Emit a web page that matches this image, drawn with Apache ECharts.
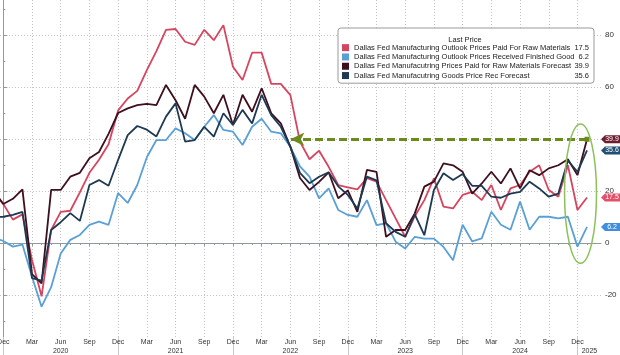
<!DOCTYPE html>
<html><head><meta charset="utf-8">
<script src="https://cdn.jsdelivr.net/npm/echarts@6/dist/echarts.min.js"></script>
<style>html,body{margin:0;padding:0;background:#fff}#c{width:620px;height:355px}</style>
</head><body><div id="c"></div>
<script>
// ---------- data ----------
const months = [
 '2019-11','2019-12',
 '2020-01','2020-02','2020-03','2020-04','2020-05','2020-06','2020-07','2020-08','2020-09','2020-10','2020-11','2020-12',
 '2021-01','2021-02','2021-03','2021-04','2021-05','2021-06','2021-07','2021-08','2021-09','2021-10','2021-11','2021-12',
 '2022-01','2022-02','2022-03','2022-04','2022-05','2022-06','2022-07','2022-08','2022-09','2022-10','2022-11','2022-12',
 '2023-01','2023-02','2023-03','2023-04','2023-05','2023-06','2023-07','2023-08','2023-09','2023-10','2023-11','2023-12',
 '2024-01','2024-02','2024-03','2024-04','2024-05','2024-06','2024-07','2024-08','2024-09','2024-10','2024-11','2024-12',
 '2025-01'
];
const seriesNames = [
 'Dallas Fed Manufacturing Outlook Prices Paid For Raw Materials',
 'Dallas Fed Manufacturing Outlook Prices Received Finished Good',
 'Dallas Fed Manufacutring Prices Paid for Raw Materials Forecast',
 'Dallas Fed Manufacutring Goods Price Rec Forecast'
];
const rawPaid = [19.5,15,9,11,-6.5,-20.5,5,12,12.4,19.5,27,32,38,51,55.6,58.5,66.5,73.8,82,82.3,77.4,76.2,82,78,83.8,67.8,62.7,73.2,73.2,61.2,61.2,56.9,39,32.2,35.5,29.3,22.3,21.4,20.6,24.9,23.6,16.5,9.5,2.4,10.3,16.5,24.9,14,13.3,18.5,19.7,16.5,22.3,12.7,21,22.3,27.4,29.9,20.4,17.8,29.9,12.7,17.5];
const finishedRecv = [2,0.8,-1.4,-0.6,-13,-24.5,-17,-4,1.2,3.1,7,8.2,7,19.2,15.4,22.3,33,39.6,39.6,44.1,42.2,39.6,44.7,49.2,43.5,42.8,37.7,44.7,47.8,42.8,42.2,37,29.5,25.5,17.2,21,12.7,10.8,10.1,16.5,6.9,7.6,0.5,-2.1,2.4,1.7,1.7,-1.5,-6.6,7,0.6,1.8,12,7,5.1,15.9,5.1,10.1,10.1,9.5,10.1,-1.4,6.2];
const rawPaidFcst = [20,15,17,20.6,-12,-15.5,20.4,20.4,25.5,27,32.6,35,42,50,51.8,53,53.5,53,60.8,54.9,47.8,60.8,56.3,49.9,57,45.4,57,50.5,59.5,49.9,46,37,25,20.4,23.5,27.2,17.2,20.2,12,28.1,27.4,2.4,5,5,11.4,21.7,23.6,30.6,29.9,27.4,19,22.9,27.4,22.9,28.7,21,28,26.1,28.7,29.9,32.2,26.1,39.9];
const goodsRecFcst = [10,10.1,10.8,12,-13.5,-14.5,5,8,11.5,8.5,22.3,24.2,22,32,41.5,45,43.6,41,48.6,53.7,39,39.6,44.7,40.9,49.9,45.4,51.2,46,57,49.2,44.7,37,27,23,25.5,27.2,21.8,18.5,13.3,25.5,24.1,7.6,4.3,2.4,11,3,20.4,26.8,24.2,26.5,22,22,17.8,17.4,19,19.7,23.6,21,17.8,19,31.7,27.4,35.6];
const lastPrice = [17.5, 6.2, 39.9, 35.6];
const yTickLabels = [-20, 0, 20, 40, 60, 80];
const yMinorTicks = [-30, -10, 10, 30, 50, 70, 90];
const monthNames = ['Jan','Feb','Mar','Apr','May','Jun','Jul','Aug','Sep','Oct','Nov','Dec'];

// annotation (in data units)
const arrowLevel = 39.9;
const arrowFrom = 61;     // latest month index
const arrowTo = 30.0;     // around Jun 2022
const ellipseCenter = [60.32, 19];
const ellipseRadius = [1.67, 26.8];

// ---------- view ----------
const X_MIN = -0.345, X_MAX = 62.46, Y_MIN = -36.15, Y_MAX = 93.46;
const FONT = '"Liberation Sans", Arial, sans-serif';
const lineColors = ['#d6455f', '#5aa0d6', '#3e0f1f', '#1e3a52'];
const tagColors = ['#e2506a', '#3f8fdc', '#6e1c30', '#214f74'];
const GRIDC = '#c4c4c4', AXC = '#8f9a9a', TXT = '#333';

const xOf = s => { const [y, m] = s.split('-').map(Number); return (y - 2019) * 12 + m - 12; };
const xs = months.map(xOf);
const pairs = vals => vals.map((v, i) => [xs[i], v]);
const quarterTicks = xs.filter((x, i) => x >= 0 && [3, 6, 9, 12].includes(+months[i].slice(5)));
const monthTicks = xs.filter(x => x >= 0);
const yearTicks = xs.filter((x, i) => x >= 0 && months[i].endsWith('-12'));
const lastQuarter = quarterTicks[quarterTicks.length - 1];
function xLabel(v) {
  const i = xs.indexOf(Math.round(v));
  if (i < 0) return '';
  const [y, m] = months[i].split('-').map(Number);
  const name = monthNames[m - 1];
  if (m === 6) return name + '\n' + y;
  if (m === 12 && Math.round(v) === lastQuarter) return name + '\n{yr|' + (y + 1) + '}';
  return name;
}
const tagPath = 'path://M0,5 L4,0 L20,0 L20,10 L4,10 Z';
const allVals = [rawPaid, finishedRecv, rawPaidFcst, goodsRecFcst];

const series = allVals.map((vals, k) => {
  const s = {
    name: seriesNames[k], type: 'line', data: pairs(vals),
    symbol: 'none', showSymbol: false, z: 2 + k,
    lineStyle: { width: 1.8, color: lineColors[k] },
    itemStyle: { color: lineColors[k] },
    markPoint: {
      silent: true, symbol: tagPath, symbolSize: [20, 8], symbolKeepAspect: false, symbolOffset: [10, 0],
      itemStyle: { color: tagColors[k] },
      label: { show: true, position: 'inside', color: '#fff', fontSize: 7, fontFamily: FONT, offset: [1, 0],
               formatter: () => lastPrice[k].toFixed(1) },
      data: [{ coord: [X_MAX, lastPrice[k]] }]
    }
  };
  if (k === 2) {
    s.markLine = {
      silent: true, animation: false,
      label: { show: false },
      lineStyle: { color: '#6a8a1c', width: 3, type: [8, 4] },
      data: [[
        { coord: [arrowFrom, arrowLevel], symbol: 'rect', symbolSize: 5 },
        { coord: [arrowTo, arrowLevel], symbol: 'arrow', symbolSize: [10, 14], itemStyle: { color: '#8db52a' } }
      ]]
    };
  }
  return s;
});

const chart = echarts.init(document.getElementById('c'), null, { renderer: 'canvas' });
const baseX = { type: 'value', min: X_MIN, max: X_MAX, position: 'bottom', gridIndex: 0 };
chart.setOption({
  animation: false,
  backgroundColor: '#fff',
  grid: { left: 0, right: 19, top: 0, bottom: 18, containLabel: false, outerBoundsMode: 'none' },
  legend: {
    orient: 'vertical', left: 338, top: 28, padding: [15, 5, 3, 4],
    itemWidth: 7, itemHeight: 7, itemGap: 0, selectedMode: false, icon: 'rect',
    backgroundColor: '#fff', borderColor: '#9a9a9a', borderWidth: 1, borderRadius: 3,
    textStyle: { fontFamily: FONT, fontSize: 7.5, color: '#222', lineHeight: 9.3,
      rich: {
        n: { width: 206, fontFamily: FONT, fontSize: 7.5, color: '#222', lineHeight: 9.3 },
        v: { width: 29, align: 'right', fontFamily: FONT, fontSize: 7.5, color: '#222', lineHeight: 9.3 }
      } },
    formatter: name => '{n|' + name + '}{v|' + lastPrice[seriesNames.indexOf(name)] + '}',
    data: seriesNames
  },
  graphic: [
    { id: 'lp', type: 'text', z: 100, x: 465, y: 40,
      style: { text: 'Last Price', align: 'center', verticalAlign: 'middle', fontSize: 7.5, fontFamily: FONT, fill: '#222' } }
  ],
  xAxis: [
    Object.assign({}, baseX, {
      axisLine: { show: true, lineStyle: { color: AXC, width: 1 } },
      axisTick: { show: true, customValues: quarterTicks, length: 3, lineStyle: { color: AXC } },
      axisLabel: { show: true, customValues: quarterTicks, formatter: xLabel, fontSize: 7, fontFamily: FONT,
        color: TXT, margin: 1, lineHeight: 9,
        rich: { yr: { padding: [0, 0, 0, 24], fontSize: 7, fontFamily: FONT, color: TXT } } },
      splitLine: { show: true, lineStyle: { color: GRIDC, type: [1, 2], width: 1 } }
    }),
    Object.assign({}, baseX, {
      axisLine: { show: false }, axisLabel: { show: false }, splitLine: { show: false },
      axisTick: { show: true, customValues: monthTicks, length: 2, lineStyle: { color: AXC } }
    }),
    Object.assign({}, baseX, {
      axisLine: { show: false }, axisLabel: { show: false }, splitLine: { show: false },
      axisTick: { show: true, customValues: yearTicks, length: 18, lineStyle: { color: '#c8c8c8' } }
    })
  ],
  yAxis: [
    { type: 'value', position: 'right', min: Y_MIN, max: Y_MAX,
      axisLine: { show: true, lineStyle: { color: AXC, width: 1 } },
      axisTick: { show: true, customValues: yTickLabels, length: 4, lineStyle: { color: AXC } },
      axisLabel: { show: true, customValues: yTickLabels, fontSize: 8, fontFamily: FONT, color: TXT, margin: 4 },
      splitLine: { show: true, lineStyle: { color: GRIDC, type: [1, 2], width: 1 } } },
    { type: 'value', position: 'right', min: Y_MIN, max: Y_MAX,
      axisLine: { show: false }, axisLabel: { show: false }, splitLine: { show: false },
      axisTick: { show: true, customValues: yMinorTicks, length: 2, lineStyle: { color: AXC } } }
  ],
  series: series
});

const c0 = chart.convertToPixel({ xAxisIndex: 0, yAxisIndex: 0 }, ellipseCenter);
const c1 = chart.convertToPixel({ xAxisIndex: 0, yAxisIndex: 0 },
  [ellipseCenter[0] + ellipseRadius[0], ellipseCenter[1] + ellipseRadius[1]]);
chart.setOption({
  graphic: [
    { id: 'lp' },
    { id: 'ell', type: 'ellipse', z: 100, silent: true,
      shape: { cx: c0[0], cy: c0[1], rx: Math.abs(c1[0] - c0[0]), ry: Math.abs(c1[1] - c0[1]) },
      style: { fill: 'none', stroke: '#8cc05a', lineWidth: 1.5 } }
  ]
});
</script>
</body></html>
